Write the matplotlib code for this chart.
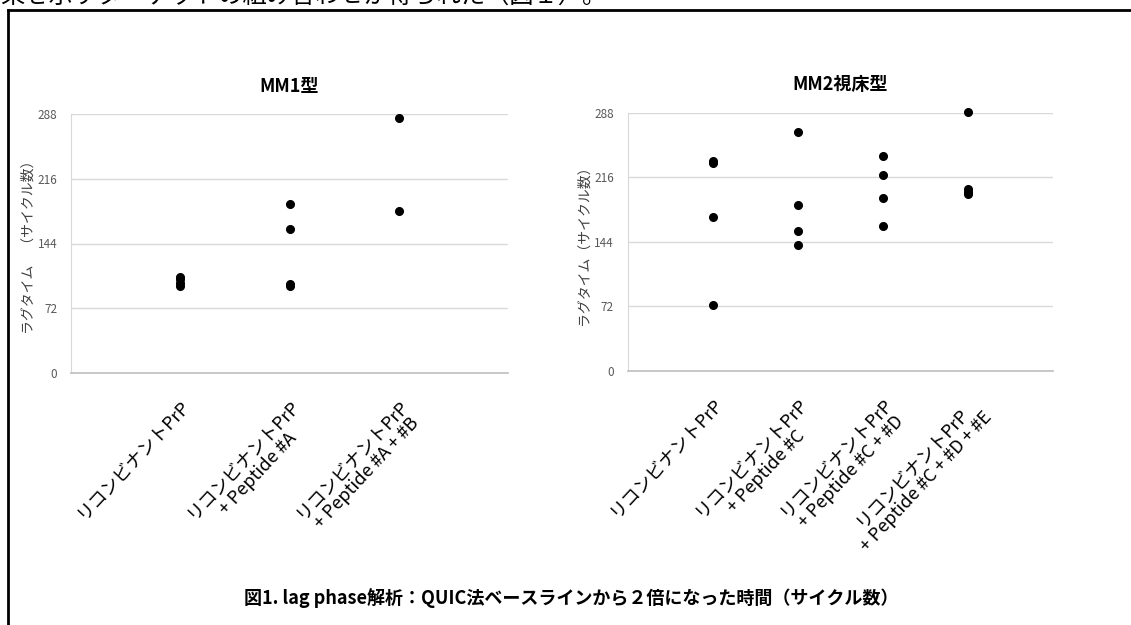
import matplotlib
matplotlib.use("Agg")
import matplotlib.pyplot as plt
from matplotlib.lines import Line2D

plt.rcParams['font.family'] = ['Noto Sans CJK JP', 'DejaVu Sans']

# lag time (cycles) per sample, one list per category
mm1_labels = ["リコンビナントPrP",
              "リコンビナントPrP\n+ Peptide #A",
              "リコンビナントPrP\n+ Peptide #A + #B"]
mm1_values = [[107, 104, 100, 97],
              [188, 160, 99, 97],
              [284, 180]]

mm2_labels = ["リコンビナントPrP",
              "リコンビナントPrP\n+ Peptide #C",
              "リコンビナントPrP\n+ Peptide #C + #D",
              "リコンビナントPrP\n+ Peptide #C + #D + #E"]
mm2_values = [[234, 232, 172, 74],
              [266, 185, 156, 141],
              [240, 219, 193, 162],
              [289, 203, 200, 197]]

y_ticks = [0, 72, 144, 216, 288]

head_text = "果を示すターゲットの組み合わせが得られた（図１）。"
caption = "図1. lag phase解析：QUIC法ベースラインから２倍になった時間（サイクル数）"


def draw_panel(ax, labels, values, title, ylabel, ylabel_x):
    for i, vals in enumerate(values):
        ax.plot([i + 1] * len(vals), vals, 'o', color='black', ms=5.5,
                zorder=3, clip_on=False)
    ax.set_xlim(0, len(labels) + 1)
    ax.set_ylim(0, 288)
    ax.set_yticks(y_ticks)
    ax.set_yticklabels([str(t) for t in y_ticks], fontsize=8.5, color='#595959')
    ax.set_xticks(range(1, len(labels) + 1))
    ax.set_xticklabels(labels, rotation=47, ha='right', rotation_mode='anchor',
                       fontsize=13, multialignment='center', linespacing=1.15)
    ax.tick_params(axis='both', length=0)
    ax.tick_params(axis='y', pad=10)
    ax.tick_params(axis='x', pad=17)
    ax.grid(axis='y', color='#d9d9d9', linewidth=1)
    ax.set_axisbelow(True)
    for s in ['top', 'right']:
        ax.spines[s].set_visible(False)
    ax.spines['left'].set_color('#d9d9d9')
    ax.spines['bottom'].set_color('#bfbfbf')
    ax.spines['bottom'].set_linewidth(1.2)
    ax.set_title(title, fontsize=13, fontweight='bold', pad=16)
    ax.set_ylabel(ylabel, fontsize=10, color='#404040')
    ax.yaxis.set_label_coords(ylabel_x, 0.5)


fig = plt.figure(figsize=(11.31, 6.25), dpi=100)

ax1 = fig.add_axes([0.0628, 0.4032, 0.3864, 0.4144])
draw_panel(ax1, mm1_labels, mm1_values, "MM1型", "ラグタイム　（サイクル数）", -0.082)

ax2 = fig.add_axes([0.555, 0.4064, 0.376, 0.4133])
draw_panel(ax2, mm2_labels, mm2_values, "MM2視床型", "ラグタイム（サイクル数）", -0.088)

# frame around the figure block
fig.add_artist(Line2D([8 / 1131, 1130 / 1131], [1 - 10 / 625, 1 - 10 / 625],
                      color='black', linewidth=2, transform=fig.transFigure))
fig.add_artist(Line2D([8 / 1131, 8 / 1131], [1 - 10 / 625, 0],
                      color='black', linewidth=2, transform=fig.transFigure))

# body text line above the figure, cut off by the top edge as in the scan
fig.text(0.0, 1 - 4 / 625, head_text, fontsize=17.5, ha='left', va='baseline')
fig.text(0.505, 1 - 598 / 625, caption, fontsize=13, fontweight='bold',
         ha='center', va='center')

fig.savefig("out.png", dpi=100)
